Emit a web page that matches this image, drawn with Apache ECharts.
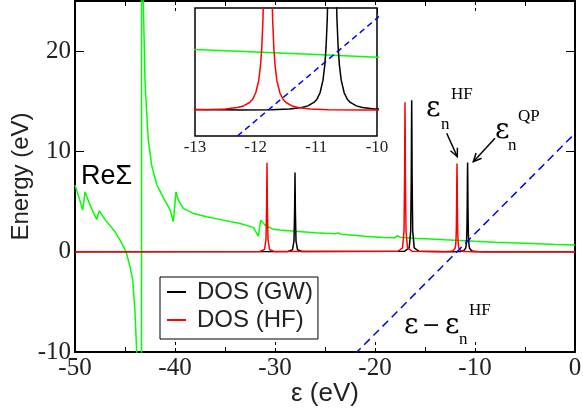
<!DOCTYPE html>
<html>
<head>
<meta charset="utf-8">
<script src="https://cdn.jsdelivr.net/npm/echarts@6/dist/echarts.min.js"></script>
<style>html,body{margin:0;padding:0;background:#fff;}#c{width:583px;height:411px;}</style>
</head>
<body>
<div id="c"></div>
<script>
// ---- data ----
const xRange = [-50, 0];
const yRange = [-10, 25];
const insetXRange = [-13, -10];
const insetYRange = [-0.5, 2];
const xTickStep = 10;
const yTickStep = 10;
const insetTickStep = 1;
const seriesNames = ['DOS (GW)', 'DOS (HF)'];

const dosGW = [
  [-50,0],
  [-28.7,0.03],[-28.25,0.2],[-28.1,1.09],[-28.04,3.95],[-28.0,7.9],[-27.96,3.95],[-27.9,1.09],[-27.75,0.2],[-27.3,0.03],
  [-17.03,0.05],[-16.58,0.38],[-16.43,2.08],[-16.37,7.55],[-16.35,12.1],[-16.33,15.1],[-16.31,12.1],[-16.29,7.55],[-16.23,2.08],[-16.08,0.38],[-15.63,0.05],
  [-12.24,0.006],[-11.74,0.014],[-11.44,0.029],[-11.24,0.057],[-11.14,0.088],[-11.04,0.156],[-10.99,0.22],[-10.94,0.34],
  [-10.89,0.59],[-10.86,0.89],[-10.84,1.23],[-10.82,1.78],[-10.80,2.74],[-10.78,4.45],[-10.76,7.12],[-10.74,8.9],
  [-10.72,7.12],[-10.70,4.45],[-10.68,2.74],[-10.66,1.78],[-10.64,1.23],[-10.62,0.89],[-10.59,0.59],[-10.54,0.34],
  [-10.49,0.22],[-10.44,0.156],[-10.34,0.088],[-10.24,0.057],[-10.04,0.029],[-9.74,0.014],[-9.24,0.006],
  [0,0]
];

const dosHF = [
  [-50,0],
  [-31.5,0.03],[-31.05,0.22],[-30.9,1.22],[-30.84,4.43],[-30.8,8.86],[-30.76,4.43],[-30.7,1.22],[-30.55,0.22],[-30.1,0.03],
  [-17.7,0.05],[-17.25,0.37],[-17.1,2.06],[-17.04,7.45],[-17.02,11.9],[-17.0,14.9],[-16.98,11.9],[-16.96,7.45],[-16.9,2.06],[-16.75,0.37],[-16.3,0.05],
  [-13.3,0.006],[-12.8,0.014],[-12.5,0.029],[-12.3,0.056],[-12.2,0.087],[-12.1,0.154],[-12.05,0.22],[-12.0,0.34],
  [-11.95,0.58],[-11.92,0.88],[-11.9,1.21],[-11.88,1.76],[-11.86,2.71],[-11.84,4.4],[-11.82,7.04],[-11.8,8.8],
  [-11.78,7.04],[-11.76,4.4],[-11.74,2.71],[-11.72,1.76],[-11.7,1.21],[-11.68,0.88],[-11.65,0.58],[-11.6,0.34],
  [-11.55,0.22],[-11.5,0.154],[-11.4,0.087],[-11.3,0.056],[-11.1,0.029],[-10.8,0.014],[-10.3,0.006],
  [0,0]
];

const reSigma = [
  [-50,6.64],[-49.6,5.4],[-49.23,4.15],[-49.0,5.97],[-48.6,4.9],[-48.2,4.0],[-47.83,3.22],[-47.57,4.08],
  [-47.0,3.2],[-46.5,2.6],[-46.0,2.0],[-45.5,1.16],[-45.2,0.6],[-44.9,0.0],[-44.5,-1.49],[-44.23,-2.8],
  [-44.0,-6.0],[-43.83,-10],[-43.6,-30],[-43.36,-300],[-43.33,300],[-43.17,25],[-43.0,17],[-42.9,15.1],
  [-42.67,11.1],[-42.33,8.6],[-42.17,8.0],[-41.83,6.7],[-41.17,5.4],[-40.5,4.2],[-40.17,2.99],[-39.9,5.97],
  [-39.67,5.14],[-39.17,4.32],[-38.17,3.82],[-36.83,3.48],[-35.17,3.15],[-33.5,2.82],[-32.17,2.43],
  [-31.67,1.56],[-31.43,3.15],[-31.0,2.66],[-30.17,2.23],[-29.5,2.16],[-28,2.05],[-26,1.9],[-24,1.78],
  [-23.7,1.86],[-23.4,1.75],[-21,1.55],[-19.2,1.42],[-18.0,1.4],[-17.8,1.6],[-17.5,1.45],[-16,1.35],
  [-14,1.25],[-13,1.19],[-12,1.14],[-11,1.09],[-10,1.04],[-8,0.95],[-5,0.85],[-2,0.73],[0,0.67]
];

const epsMinusHF = [[-22,-10.2],[0,11.8]];

// ---- chart ----
const SANS = "'Liberation Sans', Arial, sans-serif";
const SERIF = "'Liberation Serif', 'Times New Roman', serif";
const GREEK = "'DejaVu Serif', serif";
const chart = echarts.init(document.getElementById('c'), null, {renderer: 'canvas'});

function lineSeries(name, data, color, xi, yi, extra) {
  return Object.assign({
    name: name, type: 'line', data: data, xAxisIndex: xi, yAxisIndex: yi,
    symbol: 'none', showSymbol: false, clip: true, silent: true,
    lineStyle: {color: color, width: 1.5}, itemStyle: {color: color}
  }, extra || {});
}

function txt(x, y, text, size, family, align) {
  return {type: 'text', x: x, y: y, silent: true, z: 100,
    style: {text: text, font: size + 'px ' + family, fill: '#000',
      textAlign: align || 'left', textVerticalAlign: 'middle'}};
}
function seg(pts) {
  return {type: 'polyline', silent: true, z: 100, shape: {points: pts},
    style: {stroke: '#000', lineWidth: 1.5, fill: null}};
}

const option = {
  animation: false,
  backgroundColor: '#fff',
  grid: [
    {left: 75, top: 1, width: 500, height: 351, containLabel: false, outerBoundsMode: 'none'},
    {left: 195, top: 8, width: 182, height: 128, containLabel: false, outerBoundsMode: 'none',
      show: true, backgroundColor: '#fff', borderColor: '#000', borderWidth: 1.5, z: 5}
  ],
  legend: {
    data: [
      {name: seriesNames[0], icon: 'rect', itemStyle: {color: '#000'}},
      {name: seriesNames[1], icon: 'rect', itemStyle: {color: '#ff0000'}}
    ],
    orient: 'vertical', left: 160, top: 277,
    backgroundColor: '#fff', borderColor: '#000', borderWidth: 1,
    padding: [2, 5, 6, 7], itemGap: 2, itemWidth: 19, itemHeight: 2,
    textStyle: {fontFamily: SANS, fontSize: 24, color: '#222', lineHeight: 26, padding: [0, 0, 0, 6]},
    z: 20
  },
  xAxis: [
    {type: 'value', gridIndex: 0, min: xRange[0], max: xRange[1], interval: xTickStep,
      name: 'ε (eV)', nameLocation: 'middle', nameGap: 29, nameMoveOverlap: false,
      nameTextStyle: {fontFamily: SANS, fontSize: 26, color: '#222'},
      axisLine: {show: true, onZero: false, lineStyle: {color: '#000', width: 2}},
      axisTick: {show: true, inside: true, length: 10, lineStyle: {color: '#000', width: 1, type: [4, 3]}},
      minorTick: {show: true, splitNumber: 2, length: 5, lineStyle: {color: '#000', width: 1}},
      axisLabel: {fontFamily: SERIF, fontSize: 25, color: '#222', margin: 4},
      splitLine: {show: false}},
    {type: 'value', gridIndex: 0, position: 'top', min: xRange[0], max: xRange[1], interval: xTickStep,
      axisLine: {show: true, onZero: false, lineStyle: {color: '#000', width: 2}},
      axisTick: {show: true, inside: true, length: 10, lineStyle: {color: '#000', width: 1, type: [4, 3]}},
      minorTick: {show: true, splitNumber: 2, length: 5, lineStyle: {color: '#000', width: 1}},
      axisLabel: {show: false}, splitLine: {show: false}},
    {type: 'value', gridIndex: 1, min: insetXRange[0], max: insetXRange[1], interval: insetTickStep,
      axisLine: {show: false, onZero: false}, axisTick: {show: false},
      axisLabel: {fontFamily: SERIF, fontSize: 17, color: '#222', margin: 3},
      splitLine: {show: false}},
    {type: 'value', gridIndex: 1, position: 'top', min: insetXRange[0], max: insetXRange[1], interval: insetTickStep,
      axisLine: {show: false, onZero: false},
      axisTick: {show: true, inside: true, length: 6, lineStyle: {color: '#000', width: 1}},
      axisLabel: {show: false}, splitLine: {show: false}}
  ],
  yAxis: [
    {type: 'value', gridIndex: 0, min: yRange[0], max: yRange[1], interval: yTickStep,
      name: 'Energy (eV)', nameLocation: 'middle', nameGap: 42, nameRotate: 90, nameMoveOverlap: false,
      nameTextStyle: {fontFamily: SANS, fontSize: 24, color: '#222'},
      axisLine: {show: true, onZero: false, lineStyle: {color: '#000', width: 2}},
      axisTick: {show: true, inside: true, length: 9, lineStyle: {color: '#000', width: 1}},
      axisLabel: {fontFamily: SERIF, fontSize: 25, color: '#222', margin: 4, showMaxLabel: false},
      splitLine: {show: false}},
    {type: 'value', gridIndex: 0, position: 'right', min: yRange[0], max: yRange[1], interval: yTickStep,
      axisLine: {show: true, onZero: false, lineStyle: {color: '#000', width: 2}},
      axisTick: {show: true, inside: true, length: 9, lineStyle: {color: '#000', width: 1}},
      axisLabel: {show: false}, splitLine: {show: false}},
    {type: 'value', gridIndex: 1, min: insetYRange[0], max: insetYRange[1],
      axisLine: {show: false}, axisTick: {show: false}, axisLabel: {show: false}, splitLine: {show: false}}
  ],
  series: [
    lineSeries('ReSigma', reSigma, '#00ff00', 0, 0),
    lineSeries(seriesNames[0], dosGW, '#000000', 0, 0),
    lineSeries(seriesNames[1], dosHF, '#ff0000', 0, 0),
    lineSeries('eps-epsHF', epsMinusHF, '#0000ff', 0, 0, {lineStyle: {color: '#0000ff', width: 1.5, type: [8, 5]}}),
    lineSeries('ReSigma-inset', reSigma, '#00ff00', 2, 2, {z: 6}),
    lineSeries('GW-inset', dosGW, '#000000', 2, 2, {z: 6}),
    lineSeries('HF-inset', dosHF, '#ff0000', 2, 2, {z: 6}),
    lineSeries('eps-inset', epsMinusHF, '#0000ff', 2, 2, {z: 6, lineStyle: {color: '#0000ff', width: 1.5, type: [6, 4]}})
  ],
  graphic: [
    txt(81, 177, 'ReΣ', 27, SANS),
    // eps_n^HF (top)
    txt(426, 109, 'ε', 28, GREEK),
    txt(441, 125, 'n', 17, SERIF),
    txt(451, 95, 'HF', 17, SERIF),
    // eps_n^QP
    txt(495, 131, 'ε', 28, GREEK),
    txt(508, 146, 'n', 17, SERIF),
    txt(518, 117, 'QP', 17, SERIF),
    // eps - eps_n^HF
    txt(404, 326, 'ε', 28, GREEK),
    txt(422, 326, '−', 22, GREEK),
    txt(445, 326, 'ε', 28, GREEK),
    txt(459, 340, 'n', 17, SERIF),
    txt(469, 311, 'HF', 17, SERIF),
    // arrows
    seg([[446.7, 133.3], [457.3, 156.7]]),
    seg([[457.4, 147.7], [457.3, 156.7], [450.5, 150.8]]),
    seg([[495, 138.3], [473.3, 161.7]]),
    seg([[481.6, 158.3], [473.3, 161.7], [476.1, 153.1]])
  ]
};
chart.setOption(option);
</script>
</body>
</html>
